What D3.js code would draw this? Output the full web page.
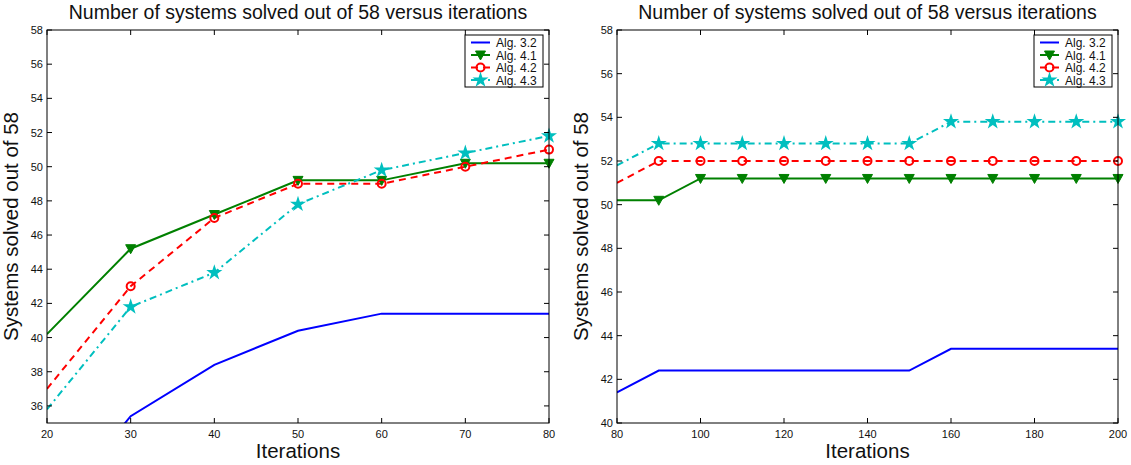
<!DOCTYPE html>
<html>
<head>
<meta charset="utf-8">
<script src="https://cdn.jsdelivr.net/npm/d3@7"></script>
<style>
  body { margin: 0; background: #fff; }
  text { font-family: "Liberation Sans", Arial, sans-serif; fill: #111; }
</style>
</head>
<body>
<div id="chart"></div>
<script>
// left panel: iterations 20..80
var leftIters = [20, 30, 40, 50, 60, 70, 80];
var leftAlg32 = [29.4, 35.4, 38.4, 40.4, 41.4, 41.4, 41.4];
var leftAlg41 = [40.2, 45.2, 47.2, 49.2, 49.2, 50.2, 50.2];
var leftAlg42 = [37, 43, 47, 49, 49, 50, 51];
var leftAlg43 = [35.8, 41.8, 43.8, 47.8, 49.8, 50.8, 51.8];

// right panel: iterations 80..200
var rightIters = [80, 90, 100, 110, 120, 130, 140, 150, 160, 170, 180, 190, 200];
var rightAlg32 = [41.4, 42.4, 42.4, 42.4, 42.4, 42.4, 42.4, 42.4, 43.4, 43.4, 43.4, 43.4, 43.4];
var rightAlg41 = [50.2, 50.2, 51.2, 51.2, 51.2, 51.2, 51.2, 51.2, 51.2, 51.2, 51.2, 51.2, 51.2];
var rightAlg42 = [51, 52, 52, 52, 52, 52, 52, 52, 52, 52, 52, 52, 52];
var rightAlg43 = [51.8, 52.8, 52.8, 52.8, 52.8, 52.8, 52.8, 52.8, 53.8, 53.8, 53.8, 53.8, 53.8];

var leftXTicks = [20, 30, 40, 50, 60, 70, 80];
var leftYTicks = [36, 38, 40, 42, 44, 46, 48, 50, 52, 54, 56, 58];
var rightXTicks = [80, 100, 120, 140, 160, 180, 200];
var rightYTicks = [40, 42, 44, 46, 48, 50, 52, 54, 56, 58];

var seriesNames = ['Alg. 3.2', 'Alg. 4.1', 'Alg. 4.2', 'Alg. 4.3'];
var titleText = 'Number of systems solved out of 58 versus iterations';
var yLabelText = 'Systems solved out of 58';
var xLabelText = 'Iterations';

var styles = {
  'Alg. 3.2': { color: '#0000ff', dash: null, marker: null },
  'Alg. 4.1': { color: '#008000', dash: null, marker: 'tri' },
  'Alg. 4.2': { color: '#ff0000', dash: '7,5', marker: 'circle' },
  'Alg. 4.3': { color: '#00bfbf', dash: '7,4,2,4', marker: 'star' }
};

var W = 1131, H = 465;
var svg = d3.select('#chart').append('svg')
  .attr('width', W).attr('height', H);

var defs = svg.append('defs');

function drawPanel(id, box, xDomain, yDomain, xTicks, yTicks, iters, series) {
  var x = d3.scaleLinear().domain(xDomain).range([box.left, box.right]);
  var y = d3.scaleLinear().domain(yDomain).range([box.bottom, box.top]);
  var g = svg.append('g');

  defs.append('clipPath').attr('id', 'clip' + id)
    .append('rect')
    .attr('x', box.left).attr('y', box.top)
    .attr('width', box.right - box.left).attr('height', box.bottom - box.top);

  // title + axis labels
  g.append('text')
    .attr('x', (box.left + box.right) / 2)
    .attr('y', 19)
    .attr('text-anchor', 'middle')
    .style('font-size', '19.5px')
    .text(titleText);
  g.append('text')
    .attr('transform', 'translate(' + (box.left - 29) + ',' + ((box.top + box.bottom) / 2) + ') rotate(-90)')
    .attr('text-anchor', 'middle')
    .style('font-size', '20.5px')
    .text(yLabelText);
  g.append('text')
    .attr('x', (box.left + box.right) / 2)
    .attr('y', 458)
    .attr('text-anchor', 'middle')
    .style('font-size', '20.5px')
    .text(xLabelText);

  // lines, clipped to the axes box
  var plot = g.append('g').attr('clip-path', 'url(#clip' + id + ')');
  var line = d3.line()
    .x(function (d) { return x(d.it); })
    .y(function (d) { return y(d.v); });

  series.forEach(function (s) {
    var st = styles[s.name];
    var pts = iters.map(function (it, i) { return { it: it, v: s.values[i] }; });
    plot.append('path')
      .datum(pts)
      .attr('d', line)
      .attr('fill', 'none')
      .attr('stroke', st.color)
      .attr('stroke-width', 2)
      .attr('stroke-dasharray', st.dash);
    // markers (none on the first point)
    pts.slice(1).forEach(function (p) {
      drawMarker(g, st, x(p.it), y(p.v));
    });
  });

  // axes box with inward ticks on all four sides
  g.append('rect')
    .attr('x', box.left).attr('y', box.top)
    .attr('width', box.right - box.left).attr('height', box.bottom - box.top)
    .attr('fill', 'none').attr('stroke', '#000').attr('stroke-width', 1);

  var tl = 5;
  xTicks.forEach(function (t) {
    g.append('line').attr('x1', x(t)).attr('x2', x(t))
      .attr('y1', box.bottom).attr('y2', box.bottom - tl).attr('stroke', '#000');
    g.append('line').attr('x1', x(t)).attr('x2', x(t))
      .attr('y1', box.top).attr('y2', box.top + tl).attr('stroke', '#000');
    g.append('text').attr('x', x(t)).attr('y', box.bottom + 15)
      .attr('text-anchor', 'middle').style('font-size', '11px').text(t);
  });
  yTicks.forEach(function (t) {
    g.append('line').attr('x1', box.left).attr('x2', box.left + tl)
      .attr('y1', y(t)).attr('y2', y(t)).attr('stroke', '#000');
    g.append('line').attr('x1', box.right).attr('x2', box.right - tl)
      .attr('y1', y(t)).attr('y2', y(t)).attr('stroke', '#000');
    g.append('text').attr('x', box.left - 4).attr('y', y(t) + 4)
      .attr('text-anchor', 'end').style('font-size', '11px').text(t);
  });

  // legend
  var lx = box.right - 84, ly = box.top + 5, lw = 78, lh = 52;
  var leg = g.append('g');
  leg.append('rect').attr('x', lx).attr('y', ly).attr('width', lw).attr('height', lh)
    .attr('fill', '#fff').attr('stroke', '#000').attr('stroke-width', 1);
  seriesNames.forEach(function (name, i) {
    var st = styles[name];
    var ry = ly + 7.5 + i * 12.5;
    leg.append('line').attr('x1', lx + 6).attr('x2', lx + 25)
      .attr('y1', ry).attr('y2', ry)
      .attr('stroke', st.color).attr('stroke-width', 2)
      .attr('stroke-dasharray', st.dash);
    drawMarker(leg, st, lx + 15.5, ry);
    leg.append('text').attr('x', lx + 31).attr('y', ry + 4.5)
      .style('font-size', '12px').text(name);
  });
}

function drawMarker(g, st, cx, cy) {
  if (st.marker === 'tri') {
    g.append('path')
      .attr('d', 'M' + (cx - 5) + ',' + (cy - 4) + 'L' + (cx + 5) + ',' + (cy - 4) + 'L' + cx + ',' + (cy + 5) + 'Z')
      .attr('fill', st.color).attr('stroke', st.color).attr('stroke-width', 1);
  } else if (st.marker === 'circle') {
    g.append('circle').attr('cx', cx).attr('cy', cy).attr('r', 4)
      .attr('fill', 'none').attr('stroke', st.color).attr('stroke-width', 2);
  } else if (st.marker === 'star') {
    g.append('path')
      .attr('d', d3.symbol().type(d3.symbolStar).size(80)())
      .attr('transform', 'translate(' + cx + ',' + cy + ')')
      .attr('fill', st.color);
  }
}

drawPanel('L', { left: 47, right: 549, top: 30, bottom: 423 }, [20, 80], [35, 58],
  leftXTicks, leftYTicks, leftIters, [
    { name: 'Alg. 3.2', values: leftAlg32 },
    { name: 'Alg. 4.1', values: leftAlg41 },
    { name: 'Alg. 4.2', values: leftAlg42 },
    { name: 'Alg. 4.3', values: leftAlg43 }
  ]);

drawPanel('R', { left: 617, right: 1118, top: 30, bottom: 423 }, [80, 200], [40, 58],
  rightXTicks, rightYTicks, rightIters, [
    { name: 'Alg. 3.2', values: rightAlg32 },
    { name: 'Alg. 4.1', values: rightAlg41 },
    { name: 'Alg. 4.2', values: rightAlg42 },
    { name: 'Alg. 4.3', values: rightAlg43 }
  ]);
</script>
</body>
</html>
